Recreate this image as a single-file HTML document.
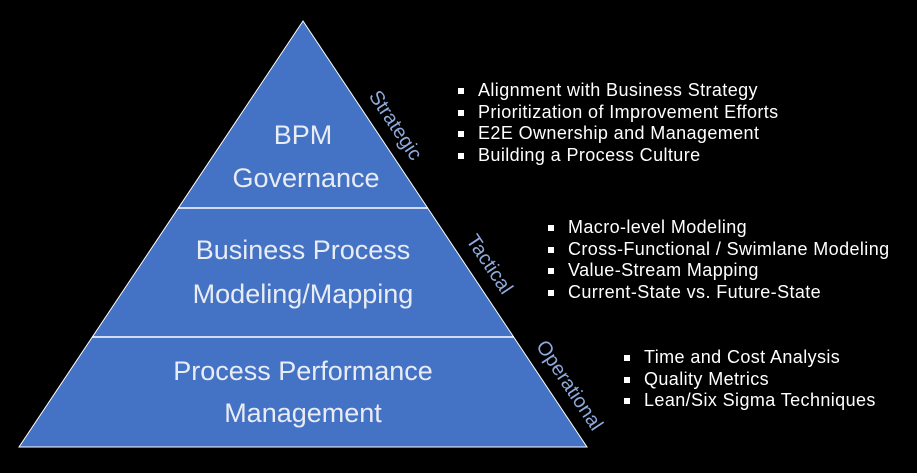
<!DOCTYPE html>
<html><head><style>
html,body{margin:0;padding:0;background:#000;}
body{width:917px;height:473px;position:relative;overflow:hidden;font-family:"Liberation Sans",sans-serif;}
.b{position:absolute;color:#fff;font-size:18px;letter-spacing:0.4px;line-height:21.5px;white-space:nowrap;}
.b div{position:relative;padding-left:20px;}
.b div:before{content:"";position:absolute;left:0;top:8px;width:6px;height:6px;background:#fff;}
</style></head><body>
<svg width="917" height="473" style="position:absolute;left:0;top:0">
<polygon points="303,21 587,447 19,447" fill="#4472C4" stroke="#fff" stroke-width="1"/>
<line x1="178" y1="208" x2="428" y2="208" stroke="#fff" stroke-width="1.5"/>
<line x1="92" y1="337" x2="514" y2="337" stroke="#fff" stroke-width="1.5"/>
<g font-family="Liberation Sans,sans-serif" font-size="27" fill="#e8ecf4" text-anchor="middle">
<text x="303" y="144">BPM</text>
<text x="306" y="187">Governance</text>
<text x="303" y="259">Business Process</text>
<text x="303" y="303">Modeling/Mapping</text>
<text x="303" y="380">Process Performance</text>
<text x="303" y="422">Management</text>
</g>
<g font-family="Liberation Sans,sans-serif" font-size="20" fill="#8EA9DB" text-anchor="middle">
<text transform="translate(396,125) rotate(56.3)" y="7">Strategic</text>
<text transform="translate(490,264) rotate(56.3)" y="7">Tactical</text>
<text transform="translate(570,385) rotate(56.3)" y="7">Operational</text>
</g>
</svg>
<div class="b" style="left:458px;top:80px">
<div>Alignment with Business Strategy</div>
<div>Prioritization of Improvement Efforts</div>
<div>E2E Ownership and Management</div>
<div>Building a Process Culture</div>
</div>
<div class="b" style="left:548px;top:217px">
<div>Macro-level Modeling</div>
<div>Cross-Functional / Swimlane Modeling</div>
<div>Value-Stream Mapping</div>
<div>Current-State vs. Future-State</div>
</div>
<div class="b" style="left:624px;top:347px">
<div>Time and Cost Analysis</div>
<div>Quality Metrics</div>
<div>Lean/Six Sigma Techniques</div>
</div>
</body></html>
